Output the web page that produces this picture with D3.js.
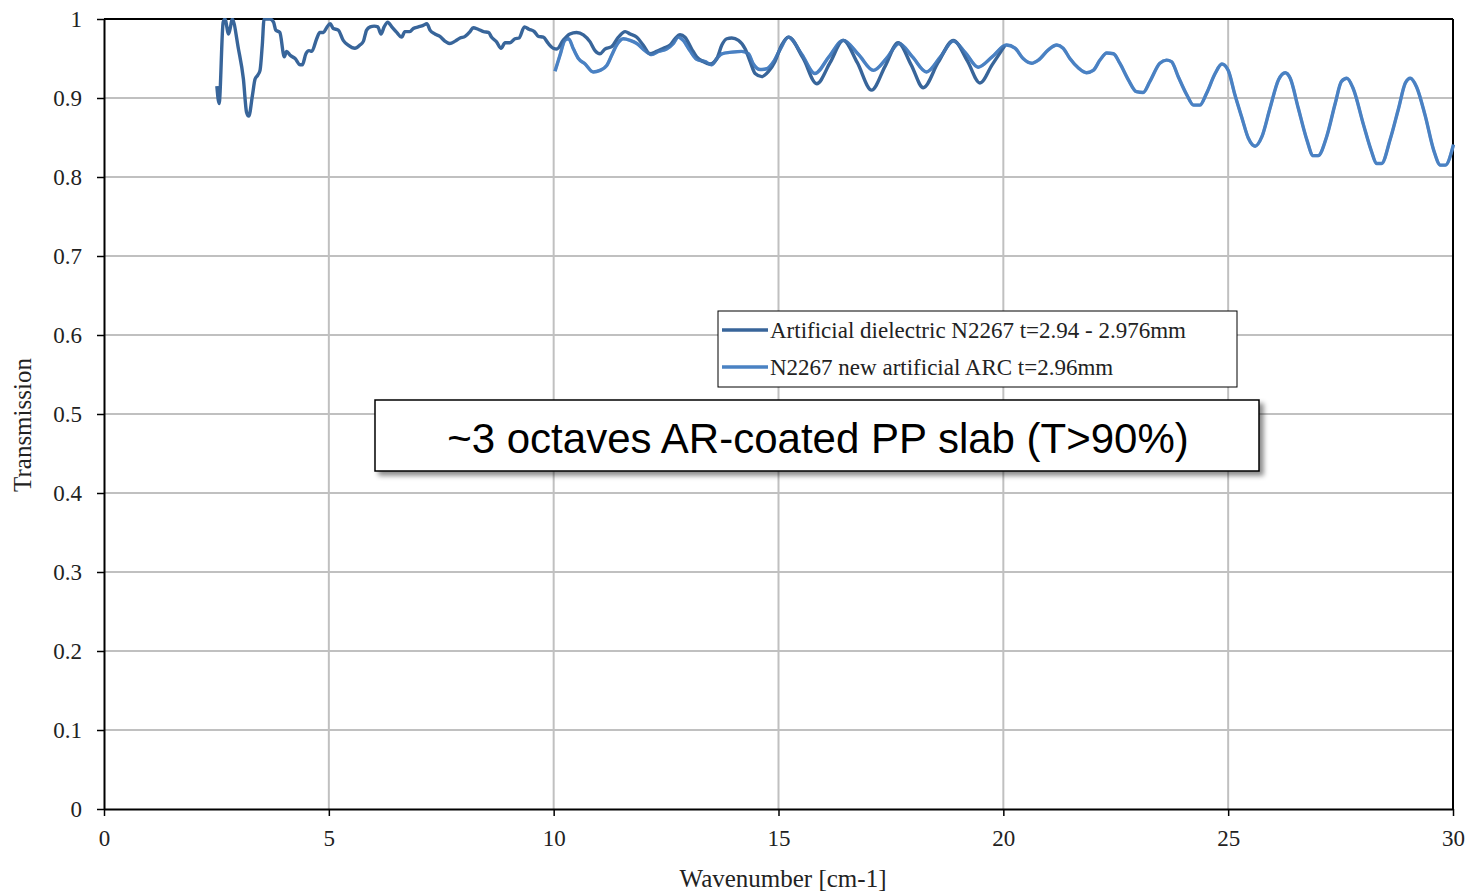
<!DOCTYPE html>
<html>
<head>
<meta charset="utf-8">
<script src="https://cdn.jsdelivr.net/npm/d3@7"></script>
<style>
  body { margin: 0; background: #fff; }
  svg { display: block; }
</style>
</head>
<body>
<script>
// series: wavenumber [cm-1], transmission
var darkX = [2.51, 2.56, 2.65, 2.69, 2.77, 2.82, 2.85, 2.99, 3.10, 3.17, 3.22, 3.30, 3.36, 3.42, 3.47, 3.52, 3.56, 3.69, 3.77, 3.82, 3.91, 4.01, 4.06, 4.14, 4.25, 4.36, 4.41, 4.49, 4.56, 4.62, 4.73, 4.80, 4.88, 4.95, 5.03, 5.10, 5.21, 5.32, 5.43, 5.58, 5.69, 5.77, 5.84, 5.92, 6.01, 6.09, 6.16, 6.23, 6.31, 6.40, 6.51, 6.62, 6.69, 6.80, 6.88, 6.99, 7.10, 7.18, 7.25, 7.36, 7.47, 7.58, 7.69, 7.81, 7.92, 8.03, 8.14, 8.21, 8.32, 8.44, 8.55, 8.62, 8.73, 8.83, 8.92, 9.03, 9.14, 9.23, 9.35, 9.45, 9.57, 9.66, 9.77, 9.88, 9.99, 10.07, 10.21, 10.36, 10.51, 10.66, 10.81, 10.92, 11.03, 11.14, 11.29, 11.44, 11.59, 11.70, 11.85, 11.99, 12.14, 12.29, 12.44, 12.59, 12.70, 12.81, 12.92, 13.07, 13.18, 13.33, 13.48, 13.63, 13.74, 13.85, 13.96, 14.11, 14.26, 14.37, 14.48, 14.63, 14.77, 14.92, 15.07, 15.22, 15.55, 15.85, 16.15, 16.44, 16.75, 17.07, 17.37, 17.66, 17.95, 18.22, 18.55, 18.89, 19.20, 19.48, 19.75, 20.03];
var darkT = [0.915, 0.893, 0.996, 1.0, 0.981, 0.992, 1.0, 0.962, 0.924, 0.882, 0.877, 0.903, 0.924, 0.929, 0.935, 0.967, 1.0, 1.0, 0.996, 0.986, 0.983, 0.952, 0.959, 0.954, 0.950, 0.942, 0.942, 0.956, 0.960, 0.959, 0.975, 0.983, 0.983, 0.989, 0.994, 0.988, 0.986, 0.973, 0.967, 0.963, 0.967, 0.972, 0.986, 0.990, 0.991, 0.990, 0.981, 0.990, 0.996, 0.990, 0.983, 0.977, 0.984, 0.984, 0.988, 0.990, 0.992, 0.994, 0.986, 0.981, 0.978, 0.972, 0.969, 0.972, 0.976, 0.978, 0.984, 0.989, 0.987, 0.984, 0.983, 0.977, 0.971, 0.963, 0.970, 0.970, 0.975, 0.976, 0.990, 0.987, 0.984, 0.978, 0.977, 0.969, 0.963, 0.962, 0.973, 0.981, 0.983, 0.980, 0.971, 0.960, 0.956, 0.962, 0.965, 0.977, 0.984, 0.981, 0.977, 0.967, 0.956, 0.959, 0.963, 0.967, 0.975, 0.980, 0.977, 0.962, 0.952, 0.946, 0.943, 0.950, 0.967, 0.975, 0.976, 0.973, 0.962, 0.946, 0.931, 0.927, 0.933, 0.946, 0.967, 0.977, 0.950, 0.918, 0.945, 0.973, 0.945, 0.910, 0.940, 0.970, 0.942, 0.913, 0.945, 0.973, 0.947, 0.919, 0.942, 0.966];

var lightX = [10.03, 10.14, 10.25, 10.33, 10.44, 10.55, 10.70, 10.88, 11.03, 11.18, 11.29, 11.40, 11.55, 11.70, 11.85, 12.03, 12.18, 12.33, 12.51, 12.66, 12.77, 12.88, 13.03, 13.18, 13.37, 13.51, 13.63, 13.74, 13.96, 14.18, 14.33, 14.44, 14.59, 14.74, 14.89, 15.04, 15.22, 15.52, 15.81, 16.12, 16.44, 16.78, 17.11, 17.40, 17.68, 17.98, 18.29, 18.60, 18.89, 19.16, 19.44, 19.75, 20.07, 20.26, 20.44, 20.63, 20.78, 21.00, 21.19, 21.33, 21.48, 21.67, 21.85, 22.00, 22.15, 22.30, 22.45, 22.59, 22.78, 22.96, 23.11, 23.26, 23.48, 23.63, 23.74, 23.89, 24.08, 24.23, 24.37, 24.52, 24.71, 24.86, 25.00, 25.15, 25.30, 25.45, 25.60, 25.75, 25.93, 26.12, 26.27, 26.38, 26.56, 26.75, 26.89, 27.00, 27.19, 27.38, 27.52, 27.64, 27.78, 28.01, 28.19, 28.30, 28.41, 28.60, 28.79, 28.94, 29.05, 29.19, 29.38, 29.57, 29.72, 29.83, 30.01];
var lightT = [0.934, 0.954, 0.973, 0.975, 0.962, 0.950, 0.943, 0.933, 0.935, 0.941, 0.954, 0.967, 0.975, 0.973, 0.969, 0.960, 0.955, 0.959, 0.962, 0.969, 0.977, 0.973, 0.960, 0.949, 0.946, 0.942, 0.950, 0.956, 0.958, 0.959, 0.956, 0.943, 0.936, 0.937, 0.946, 0.962, 0.977, 0.955, 0.931, 0.952, 0.973, 0.955, 0.935, 0.950, 0.969, 0.952, 0.933, 0.952, 0.972, 0.957, 0.939, 0.952, 0.967, 0.963, 0.950, 0.944, 0.948, 0.961, 0.967, 0.963, 0.950, 0.938, 0.932, 0.935, 0.948, 0.957, 0.956, 0.944, 0.923, 0.908, 0.907, 0.921, 0.944, 0.948, 0.946, 0.927, 0.904, 0.891, 0.891, 0.906, 0.931, 0.943, 0.935, 0.904, 0.876, 0.849, 0.839, 0.851, 0.887, 0.923, 0.932, 0.925, 0.887, 0.847, 0.827, 0.827, 0.851, 0.893, 0.921, 0.925, 0.912, 0.866, 0.832, 0.817, 0.817, 0.847, 0.887, 0.919, 0.925, 0.914, 0.878, 0.834, 0.815, 0.815, 0.841];

var xTicks = [0, 5, 10, 15, 20, 25, 30];
var yTicks = [0, 0.1, 0.2, 0.3, 0.4, 0.5, 0.6, 0.7, 0.8, 0.9, 1];
var seriesNames = ['Artificial dielectric N2267 t=2.94 - 2.976mm', 'N2267 new artificial ARC t=2.96mm'];
var seriesColors = ['#38659a', '#4a82c3'];
var note = '~3 octaves AR-coated PP slab (T>90%)';

var W = 1468, H = 892;
var left = 104, top_ = 19, right = 1453, bottom = 809;
var serif = '"Liberation Serif", "Times New Roman", serif';

var svg = d3.select('body').append('svg').attr('width', W).attr('height', H);

var x = d3.scaleLinear().domain([0, 30]).range([left, right]);
var y = d3.scaleLinear().domain([0, 1]).range([bottom, top_]);

// grid
var grid = svg.append('g').attr('id', 'grid');
grid.selectAll('.gx').data(xTicks.slice(1, -1)).enter().append('line')
	.attr('x1', d => x(d)).attr('x2', d => x(d)).attr('y1', top_).attr('y2', bottom)
	.attr('stroke', '#c0c0c0').attr('stroke-width', 2);
grid.selectAll('.gy').data(yTicks.slice(1, -1)).enter().append('line')
	.attr('x1', left).attr('x2', right).attr('y1', d => y(d)).attr('y2', d => y(d))
	.attr('stroke', '#c0c0c0').attr('stroke-width', 2);

// frame on top and right
svg.append('line').attr('x1', left).attr('x2', right).attr('y1', top_).attr('y2', top_)
	.attr('stroke', '#000').attr('stroke-width', 2);
svg.append('line').attr('x1', right).attr('x2', right).attr('y1', top_).attr('y2', bottom)
	.attr('stroke', '#000').attr('stroke-width', 2);

// axes
var xAxis = d3.axisBottom(x).tickValues(xTicks).tickSize(7).tickSizeOuter(0).tickPadding(14)
	.tickFormat(d3.format('d'));
var yAxis = d3.axisLeft(y).tickValues(yTicks).tickSize(7).tickSizeOuter(0).tickPadding(15)
	.tickFormat(d => d === 0 || d === 1 ? String(d) : d3.format('.1f')(d));

svg.append('g').attr('transform', 'translate(0,' + bottom + ')').call(xAxis)
	.call(g => g.select('.domain').attr('stroke-width', 2))
	.call(g => g.selectAll('.tick line').attr('stroke-width', 1.5))
	.call(g => g.selectAll('text').attr('font-family', serif).attr('font-size', '23px').attr('fill', '#222'));
svg.append('g').attr('transform', 'translate(' + left + ',0)').call(yAxis)
	.call(g => g.select('.domain').attr('stroke-width', 2))
	.call(g => g.selectAll('.tick line').attr('stroke-width', 1.5))
	.call(g => g.selectAll('text').attr('font-family', serif).attr('font-size', '23px').attr('fill', '#222'));

// axis titles
svg.append('text').text('Wavenumber [cm-1]')
	.attr('x', 783).attr('y', 887).attr('text-anchor', 'middle')
	.attr('font-family', serif).attr('font-size', '25px').attr('fill', '#222');
svg.append('text').text('Transmission')
	.attr('transform', 'translate(31,' + 425 + ') rotate(-90)').attr('text-anchor', 'middle')
	.attr('font-family', serif).attr('font-size', '25px').attr('fill', '#222');

// series
svg.append('clipPath').attr('id', 'plotclip').append('rect')
	.attr('x', left).attr('y', top_ - 1).attr('width', right - left + 2).attr('height', bottom - top_ + 1);

var line = d3.line().x(d => x(d[0])).y(d => y(d[1])).curve(d3.curveMonotoneX);
var plot = svg.append('g').attr('clip-path', 'url(#plotclip)');
plot.append('path').datum(d3.zip(lightX, lightT)).attr('d', line)
	.attr('fill', 'none').attr('stroke', seriesColors[1]).attr('stroke-width', 3.4).attr('stroke-linejoin', 'round');
plot.append('path').datum(d3.zip(darkX, darkT)).attr('d', line)
	.attr('fill', 'none').attr('stroke', seriesColors[0]).attr('stroke-width', 3.4).attr('stroke-linejoin', 'round');
// redraw light on top where it sits over the dark one
plot.append('path').datum(d3.zip(lightX, lightT)).attr('d', line)
	.attr('fill', 'none').attr('stroke', seriesColors[1]).attr('stroke-width', 3).attr('opacity', 0.55);

// legend
var legend = svg.append('g').attr('transform', 'translate(718,311)');
legend.append('rect').attr('width', 519).attr('height', 76)
	.attr('fill', '#fff').attr('stroke', '#000').attr('stroke-width', 1);
legend.selectAll('.entry').data(seriesNames).enter().append('g')
	.attr('transform', (d, i) => 'translate(0,' + (19 + i * 37) + ')')
	.each(function(d, i) {
		var g = d3.select(this);
		g.append('line').attr('x1', 4).attr('x2', 50).attr('stroke', seriesColors[i]).attr('stroke-width', 3.4);
		g.append('text').text(d).attr('x', 52).attr('y', 8)
			.attr('font-family', serif).attr('font-size', '23px').attr('fill', '#222');
	});

// annotation box with drop shadow
var defs = svg.append('defs');
var f = defs.append('filter').attr('id', 'shadow').attr('x', '-5%').attr('y', '-20%').attr('width', '115%').attr('height', '160%');
f.append('feDropShadow').attr('dx', 4).attr('dy', 4).attr('stdDeviation', 2.5).attr('flood-color', '#000').attr('flood-opacity', 0.45);
svg.append('rect').attr('x', 375).attr('y', 400).attr('width', 884).attr('height', 71)
	.attr('fill', '#fff').attr('stroke', '#000').attr('stroke-width', 1.5).attr('filter', 'url(#shadow)');
svg.append('text').text(note).attr('x', 818).attr('y', 453).attr('text-anchor', 'middle')
	.attr('font-family', '"Liberation Sans", Arial, sans-serif').attr('font-size', '42px').attr('fill', '#000');
</script>
</body>
</html>
